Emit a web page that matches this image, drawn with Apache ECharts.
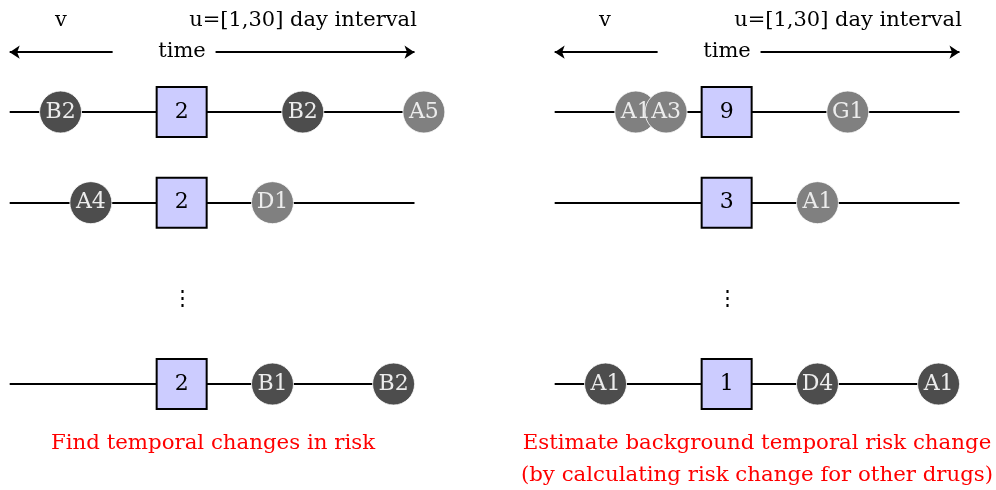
<!DOCTYPE html>
<html>
<head>
<meta charset="utf-8">
<script src="https://cdn.jsdelivr.net/npm/echarts@6/dist/echarts.min.js"></script>
<style>html,body{margin:0;padding:0;background:#fff}#c{width:996px;height:490px}</style>
</head>
<body>
<div id="c"></div>
<script>
// ---- data ----
const panelOffsets = [0, 18];            // x offset (days) of each panel
const rowLevels = [0, 1, 3];             // timeline rows (row 2 is the ellipsis)
const timelineExtent = [-5.68, 7.69];    // timeline start / end
const pastArrow = [-2.28, -5.68];        // "v" arrow (tail, head)
const futureArrow = [1.12, 7.69];        // "u" arrow (tail, head)
const squareCounts = [[2, 2, 2], [9, 3, 1]];

const leftEventX     = [-4, 4, 8, -3, 3, 3, 7];
const leftEventRow   = [0, 0, 0, 1, 1, 3, 3];
const leftEventLabel = ['B2', 'B2', 'A5', 'A4', 'D1', 'B1', 'B2'];
const leftEventShade = ['dark', 'dark', 'light', 'dark', 'light', 'dark', 'dark'];

const rightEventX     = [-3, -2, 4, 3, -4, 3, 7];
const rightEventRow   = [0, 0, 0, 1, 3, 3, 3];
const rightEventLabel = ['A1', 'A3', 'G1', 'A1', 'A1', 'D4', 'A1'];
const rightEventShade = ['light', 'light', 'light', 'light', 'dark', 'dark', 'dark'];

const captionsLeft = ['Find temporal changes in risk'];
const captionsRight = ['Estimate background temporal risk change', '(by calculating risk change for other drugs)'];

// ---- build ----
const FONT = 'DejaVu Serif';
const shadeColor = { dark: '#4d4d4d', light: '#808080' };
const series = [];

// timelines
const timelineData = [];
panelOffsets.forEach(off => rowLevels.forEach(r => {
  timelineData.push({ coords: [[off + timelineExtent[0], r], [off + timelineExtent[1], r]] });
}));
series.push({
  type: 'lines', coordinateSystem: 'cartesian2d', z: 1, silent: true,
  symbol: ['none', 'none'],
  lineStyle: { color: '#000', width: 2, opacity: 1 },
  data: timelineData
});

// arrows
const arrowY = -0.66;
const arrowData = [];
panelOffsets.forEach(off => {
  arrowData.push({ coords: [[off + pastArrow[0], arrowY], [off + pastArrow[1], arrowY]] });
  arrowData.push({ coords: [[off + futureArrow[0], arrowY], [off + futureArrow[1], arrowY]] });
});
series.push({
  type: 'lines', coordinateSystem: 'cartesian2d', z: 1, silent: true,
  symbol: ['none', 'arrow'], symbolSize: [6, 10],
  lineStyle: { color: '#000', width: 1.8, opacity: 1 },
  data: arrowData
});

// event circles
function addEvents(off, xs, rows, labels, shades) {
  series.push({
    type: 'scatter', z: 3, silent: true,
    symbol: 'circle', symbolSize: 42,
    data: xs.map((x, i) => ({
      value: [off + x, rows[i]],
      itemStyle: { color: shadeColor[shades[i]], borderColor: '#ffffff', borderWidth: 0.8, opacity: 1 },
      label: { formatter: labels[i] }
    })),
    label: { show: true, position: 'inside', color: '#ececec', fontFamily: FONT, fontSize: 22 }
  });
}
addEvents(panelOffsets[0], leftEventX, leftEventRow, leftEventLabel, leftEventShade);
addEvents(panelOffsets[1], rightEventX, rightEventRow, rightEventLabel, rightEventShade);

// squares
const squareData = [];
panelOffsets.forEach((off, p) => rowLevels.forEach((r, i) => {
  squareData.push({ value: [off, r], label: { formatter: String(squareCounts[p][i]) } });
}));
series.push({
  type: 'scatter', z: 2, silent: true,
  symbol: 'rect', symbolSize: [50, 50],
  itemStyle: { color: '#ccccff', borderColor: '#000', borderWidth: 2, opacity: 1 },
  label: { show: true, position: 'inside', color: '#000', fontFamily: FONT, fontSize: 22 },
  data: squareData
});

const chart = echarts.init(document.getElementById('c'), null, { renderer: 'canvas' });
const txt = (x, y, t, color, size) => ({
  type: 'text', x: x, y: y,
  style: { text: t, fill: color || '#000', font: (size || 21) + 'px "' + FONT + '"', align: 'center', verticalAlign: 'middle' }
});
const graphics = [];
[[182, 61, 303], [727, 605, 848]].forEach(([c, vx, ux]) => {
  graphics.push(txt(vx, 21, 'v'));
  graphics.push(txt(ux, 21, 'u=[1,30] day interval'));
  graphics.push(txt(c, 52, 'time'));
  graphics.push(txt(c, 300, '⋮'));
});
captionsLeft.forEach((t, i) => graphics.push(txt(213, 443 + i * 32, t, '#ff0000', 21.3)));
captionsRight.forEach((t, i) => graphics.push(txt(757, 443 + i * 32, t, '#ff0000', 21.3)));

chart.setOption({
  animation: false,
  backgroundColor: '#fff',
  grid: { left: 0, right: 12, top: 0, bottom: 0 },
  xAxis: { type: 'value', min: -6, max: 26.5, show: false },
  yAxis: { type: 'value', inverse: true, min: -112 / 90.67, max: -112 / 90.67 + 490 / 90.67, show: false },
  series: series,
  graphic: graphics
});
</script>
</body>
</html>
